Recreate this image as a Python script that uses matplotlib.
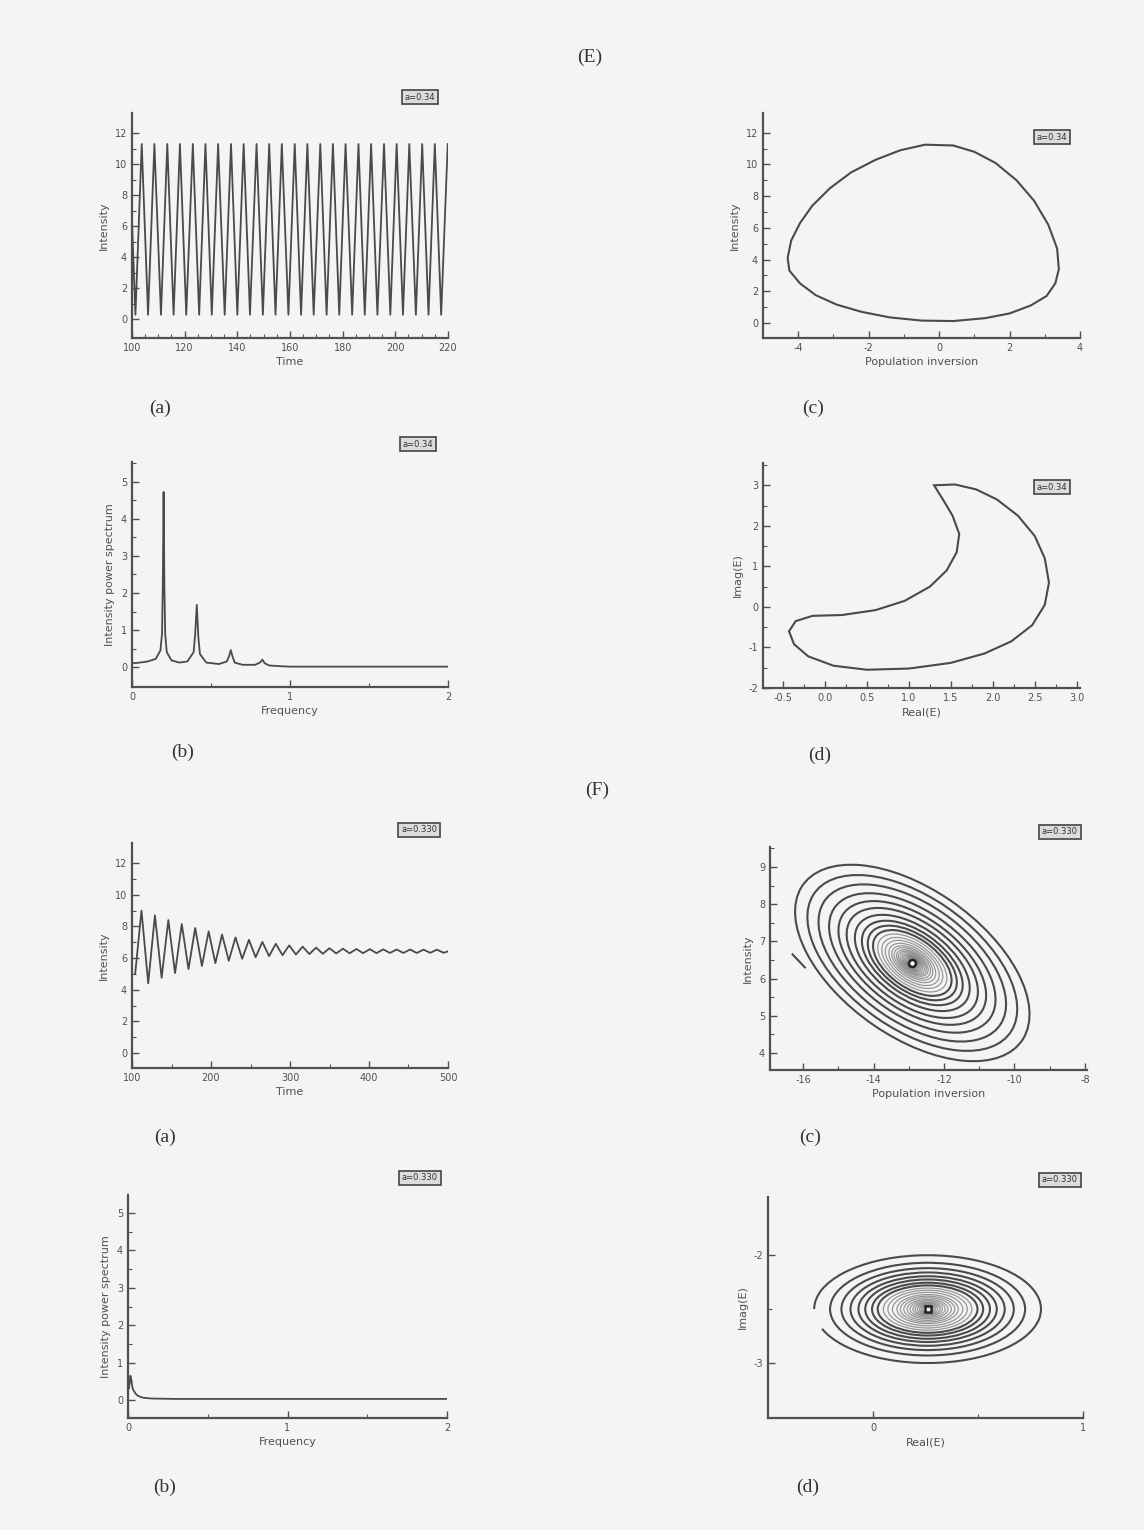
import numpy as np
import matplotlib
matplotlib.use("Agg")
import matplotlib.pyplot as plt
from matplotlib.patches import Ellipse, Arc

plt.rcParams['axes.unicode_minus'] = False

W, H = 1144, 1530
LINE = '#4a4a4a'
AXC = '#505050'
TXT = '#505050'

# ---------------- (E) periodic regime ----------------
# (a) intensity vs time : peak / trough times
ea_peak_t = [103.7, 108.5, 113.4, 118.2, 123.1, 127.9, 132.7, 137.6, 142.4, 147.3,
             152.1, 156.9, 161.8, 166.6, 171.5, 176.3, 181.1, 186.0, 190.8, 195.7,
             200.5, 205.3, 210.2, 215.0, 219.9]
ea_trough_t = [101.3, 106.1, 111.0, 115.8, 120.6, 125.5, 130.3, 135.2, 140.0, 144.8,
               149.7, 154.5, 159.4, 164.2, 169.0, 173.9, 178.7, 183.6, 188.4, 193.2,
               198.1, 202.9, 207.8, 212.6, 217.4]
ea_peak_level = 11.3
ea_trough_level = 0.3
ea_start = (100.0, 6.3)

# (b) intensity power spectrum
eb_freq = [0.0, 0.05, 0.1, 0.15, 0.18, 0.19, 0.195, 0.2, 0.205, 0.21, 0.22, 0.25,
           0.3, 0.35, 0.39, 0.40, 0.41, 0.42, 0.43, 0.47, 0.55, 0.6, 0.615, 0.625,
           0.635, 0.65, 0.7, 0.78, 0.81, 0.825, 0.84, 0.87, 0.95, 1.0, 1.5, 2.0]
eb_power = [0.1, 0.12, 0.15, 0.22, 0.45, 0.9, 2.2, 4.73, 2.2, 0.9, 0.4, 0.18,
            0.12, 0.15, 0.4, 0.9, 1.68, 0.8, 0.35, 0.12, 0.08, 0.15, 0.3, 0.46,
            0.3, 0.12, 0.06, 0.06, 0.12, 0.2, 0.1, 0.04, 0.02, 0.01, 0.01, 0.01]

# (c) limit cycle intensity vs population inversion
ec_inv = [0.4, 1.0, 1.6, 2.2, 2.7, 3.1, 3.35, 3.4, 3.3, 3.05, 2.6, 2.0, 1.3, 0.4,
          -0.5, -1.4, -2.2, -2.9, -3.5, -3.95, -4.25, -4.3, -4.2, -3.95, -3.6,
          -3.1, -2.5, -1.8, -1.1, -0.4]
ec_int = [11.2, 10.8, 10.1, 9.0, 7.7, 6.2, 4.7, 3.4, 2.5, 1.7, 1.1, 0.6, 0.3, 0.12,
          0.15, 0.35, 0.7, 1.15, 1.75, 2.5, 3.3, 4.1, 5.2, 6.3, 7.4,
          8.5, 9.5, 10.3, 10.9, 11.25]

# (d) Imag(E) vs Real(E)
ed_re = [1.30, 1.55, 1.8, 2.05, 2.3, 2.5, 2.62, 2.67, 2.62, 2.47, 2.22, 1.9, 1.5,
         1.0, 0.5, 0.1, -0.2, -0.37, -0.43, -0.35, -0.15, 0.2, 0.6, 0.95, 1.25,
         1.45, 1.57, 1.6, 1.52, 1.42]
ed_im = [3.0, 3.02, 2.9, 2.65, 2.25, 1.75, 1.2, 0.6, 0.05, -0.45, -0.85, -1.15, -1.38,
         -1.52, -1.55, -1.45, -1.22, -0.92, -0.6, -0.35, -0.22, -0.2, -0.08, 0.15, 0.5,
         0.9, 1.35, 1.8, 2.25, 2.6]

# ---------------- (F) damped regime ----------------
fa_peak_t = [112, 129, 146, 163, 180, 197, 214, 231, 248, 265, 282, 299, 316, 333,
             350, 367, 384, 401, 418, 435, 452, 469, 486]
fa_peak_i = [9.0, 8.7, 8.4, 8.15, 7.9, 7.68, 7.48, 7.3, 7.15, 7.02, 6.9, 6.8, 6.72,
             6.66, 6.62, 6.59, 6.57, 6.56, 6.55, 6.54, 6.54, 6.53, 6.53]
fa_trough_t = [120.5, 137.5, 154.5, 171.5, 188.5, 205.5, 222.5, 239.5, 256.5, 273.5,
               290.5, 307.5, 324.5, 341.5, 358.5, 375.5, 392.5, 409.5, 426.5, 443.5,
               460.5, 477.5, 494.5]
fa_trough_i = [4.4, 4.75, 5.05, 5.3, 5.5, 5.68, 5.83, 5.95, 6.05, 6.12, 6.18, 6.22,
               6.25, 6.27, 6.29, 6.3, 6.31, 6.31, 6.32, 6.32, 6.32, 6.33, 6.33]
fa_start = (104.0, 5.0)
fa_end = (500.0, 6.42)

fb_freq = [0.0, 0.005, 0.01, 0.015, 0.02, 0.025, 0.03, 0.04, 0.05, 0.06, 0.08,
           0.1, 0.15, 0.3, 1.0, 2.0]
fb_power = [0.5, 0.3, 0.45, 0.65, 0.55, 0.4, 0.3, 0.22, 0.16, 0.12, 0.08,
            0.06, 0.04, 0.03, 0.03, 0.03]

# (c) focus: ring half-axes relative to outer loop
fc_center = (-12.9, 6.42)
fc_outer = (3.75, 2.0)   # semi-axes
fc_angle = -33
fc_scales = [1.0, 0.895, 0.80, 0.71, 0.63, 0.56, 0.49, 0.43, 0.38, 0.335, 0.295,
             0.26, 0.23, 0.2, 0.175, 0.155, 0.135, 0.12, 0.105, 0.09, 0.078, 0.066,
             0.055, 0.045, 0.036]
fc_start_x = [-16.3, -15.95]
fc_start_y = [6.65, 6.3]

fd_center = (0.26, -2.5)
fd_outer = (0.54, 0.5)
fd_scales = [1.0, 0.86, 0.76, 0.68, 0.61, 0.55, 0.49, 0.44, 0.39, 0.35, 0.31,
             0.27, 0.24, 0.21, 0.18, 0.155, 0.13, 0.11, 0.09, 0.072, 0.056, 0.042]

legend_E = 'a=0.34'
legend_F = 'a=0.330'


def zigzag(start, peaks_t, peaks_v, troughs_t, troughs_v, end=None):
    pts = [start] + list(zip(peaks_t, peaks_v)) + list(zip(troughs_t, troughs_v))
    if end is not None:
        pts.append(end)
    pts.sort(key=lambda p: p[0])
    return [p[0] for p in pts], [p[1] for p in pts]


fig = plt.figure(figsize=(W / 100, H / 100), dpi=100)
fig.patch.set_facecolor('#f4f4f2')


def make_axes(left, top, right, bottom):
    ax = fig.add_axes([left / W, 1 - bottom / H, (right - left) / W, (bottom - top) / H])
    ax.patch.set_alpha(0)
    for s in ['top', 'right']:
        ax.spines[s].set_visible(False)
    for s in ['left', 'bottom']:
        ax.spines[s].set_color(AXC)
        ax.spines[s].set_linewidth(1.6)
    ax.tick_params(which='major', direction='in', length=5, width=1, colors=AXC,
                   labelsize=7, labelcolor=TXT)
    ax.tick_params(which='minor', direction='in', length=3, width=0.8, colors=AXC)
    return ax


def ticks(ax, xmaj, xmin, ymaj, ymin):
    ax.set_xticks(xmaj)
    ax.set_xticks(xmin, minor=True)
    ax.set_yticks(ymaj)
    ax.set_yticks(ymin, minor=True)


def labels(ax, xl, yl):
    ax.set_xlabel(xl, fontsize=8, color=TXT, labelpad=3)
    ax.set_ylabel(yl, fontsize=8, color=TXT, labelpad=4)


def legend_box(x, y, text):
    fig.text(x / W, 1 - y / H, text, fontsize=6, color='#333', ha='center', va='center',
             bbox=dict(boxstyle='square,pad=0.35', fc='#dcdcdc', ec='#444', lw=1.2))


def panel(x, y, text):
    fig.text(x / W, 1 - y / H, text, fontsize=14, color='#333', ha='center', va='center',
             family='Liberation Serif')


# ----- E(a)
ax = make_axes(132, 113, 448, 338)
t, v = zigzag(ea_start, ea_peak_t, [ea_peak_level] * len(ea_peak_t),
              ea_trough_t, [ea_trough_level] * len(ea_trough_t))
ax.plot(t, v, color=LINE, lw=1.3)
ax.set_xlim(100, 220)
ax.set_ylim(-1.2, 13.3)
ticks(ax, np.arange(100, 221, 20), np.arange(100, 221, 5), np.arange(0, 13, 2), np.arange(0, 13, 1))
labels(ax, 'Time', 'Intensity')

# ----- E(c)  (closed loop)
ax = make_axes(763, 113, 1080, 338)
ax.fill(ec_inv, ec_int, fill=False, ec=LINE, lw=1.5)
ax.set_xlim(-5, 4)
ax.set_ylim(-0.95, 13.25)
ticks(ax, np.arange(-4, 5, 2), np.arange(-4, 5, 1), np.arange(0, 13, 2), np.arange(0, 13, 1))
labels(ax, 'Population inversion', 'Intensity')

# ----- E(b)
ax = make_axes(132, 462, 448, 687)
ax.plot(eb_freq, eb_power, color=LINE, lw=1.3)
ax.set_xlim(0, 2)
ax.set_ylim(-0.54, 5.54)
ticks(ax, [0, 1, 2], [0.5, 1.5], np.arange(0, 6, 1), np.arange(0, 5.6, 0.5))
labels(ax, 'Frequency', 'Intensity power spectrum')

# ----- E(d)  (closed loop)
ax = make_axes(763, 463, 1080, 688)
ax.fill(ed_re, ed_im, fill=False, ec=LINE, lw=1.5)
ax.set_xlim(-0.74, 3.04)
ax.set_ylim(-2, 3.55)
ticks(ax, np.arange(-0.5, 3.01, 0.5), np.arange(-0.5, 3.01, 0.25), np.arange(-2, 4, 1), np.arange(-2, 3.6, 0.5))
ax.set_xticklabels(['-0.5', '0.0', '0.5', '1.0', '1.5', '2.0', '2.5', '3.0'])
labels(ax, 'Real(E)', 'Imag(E)')

# ----- F(a)
ax = make_axes(132, 843, 448, 1068)
t, v = zigzag(fa_start, fa_peak_t, fa_peak_i, fa_trough_t, fa_trough_i, fa_end)
ax.plot(t, v, color=LINE, lw=1.3)
ax.set_xlim(100, 500)
ax.set_ylim(-0.95, 13.27)
ticks(ax, np.arange(100, 501, 100), np.arange(100, 501, 50), np.arange(0, 13, 2), np.arange(0, 13, 1))
labels(ax, 'Time', 'Intensity')

# ----- F(c)
ax = make_axes(770, 847, 1087, 1070)
for i, s in enumerate(fc_scales):
    lw = 1.5 if i < 10 else 0.9
    alpha = 1.0 if i < 10 else 0.55
    ax.add_patch(Ellipse(fc_center, 2 * fc_outer[0] * s, 2 * fc_outer[1] * s, angle=fc_angle,
                         fill=False, ec=LINE, lw=lw, alpha=alpha))
ax.plot(fc_start_x, fc_start_y, color=LINE, lw=1.5)
ax.plot(*fc_center, 'o', ms=5, mfc='white', mec='#222', mew=1.8)
ax.set_xlim(-16.94, -7.94)
ax.set_ylim(3.54, 9.54)
ticks(ax, np.arange(-16, -7, 2), np.arange(-16, -7, 1), np.arange(4, 10, 1), np.arange(4, 9.6, 0.5))
labels(ax, 'Population inversion', 'Intensity')

# ----- F(b)
ax = make_axes(128, 1195, 447, 1418)
ax.plot(fb_freq, fb_power, color=LINE, lw=1.3)
ax.set_xlim(0, 2)
ax.set_ylim(-0.48, 5.48)
ticks(ax, [0, 1, 2], [0.5, 1.5], np.arange(0, 6, 1), np.arange(0, 5.5, 0.5))
labels(ax, 'Frequency', 'Intensity power spectrum')

# ----- F(d)
ax = make_axes(768, 1197, 1083, 1418)
for i, s in enumerate(fd_scales):
    lw = 1.5 if i < 8 else 0.9
    alpha = 1.0 if i < 8 else 0.55
    if i == 0:
        ax.add_patch(Arc(fd_center, 2 * fd_outer[0], 2 * fd_outer[1], theta1=200, theta2=540,
                         ec=LINE, lw=lw))
    else:
        ax.add_patch(Ellipse(fd_center, 2 * fd_outer[0] * s, 2 * fd_outer[1] * s,
                             fill=False, ec=LINE, lw=lw, alpha=alpha))
ax.plot(*fd_center, 's', ms=5, mfc='white', mec='#222', mew=1.8)
ax.set_xlim(-0.5, 1.0)
ax.set_ylim(-3.51, -1.46)
ticks(ax, [0, 1], [0.5], [-3, -2], [-2.5])
labels(ax, 'Real(E)', 'Imag(E)')

# legends and panel labels
legend_box(420, 97, legend_E)
legend_box(1052, 137, legend_E)
legend_box(418, 444, legend_E)
legend_box(1052, 487, legend_E)
legend_box(419, 830, legend_F)
legend_box(1060, 832, legend_F)
legend_box(420, 1178, legend_F)
legend_box(1060, 1180, legend_F)

panel(590, 57, '(E)')
panel(597, 790, '(F)')
panel(160, 408, '(a)')
panel(813, 408, '(c)')
panel(183, 752, '(b)')
panel(820, 755, '(d)')
panel(165, 1137, '(a)')
panel(810, 1137, '(c)')
panel(165, 1487, '(b)')
panel(808, 1487, '(d)')

fig.savefig('out.png', dpi=100, facecolor=fig.get_facecolor())
